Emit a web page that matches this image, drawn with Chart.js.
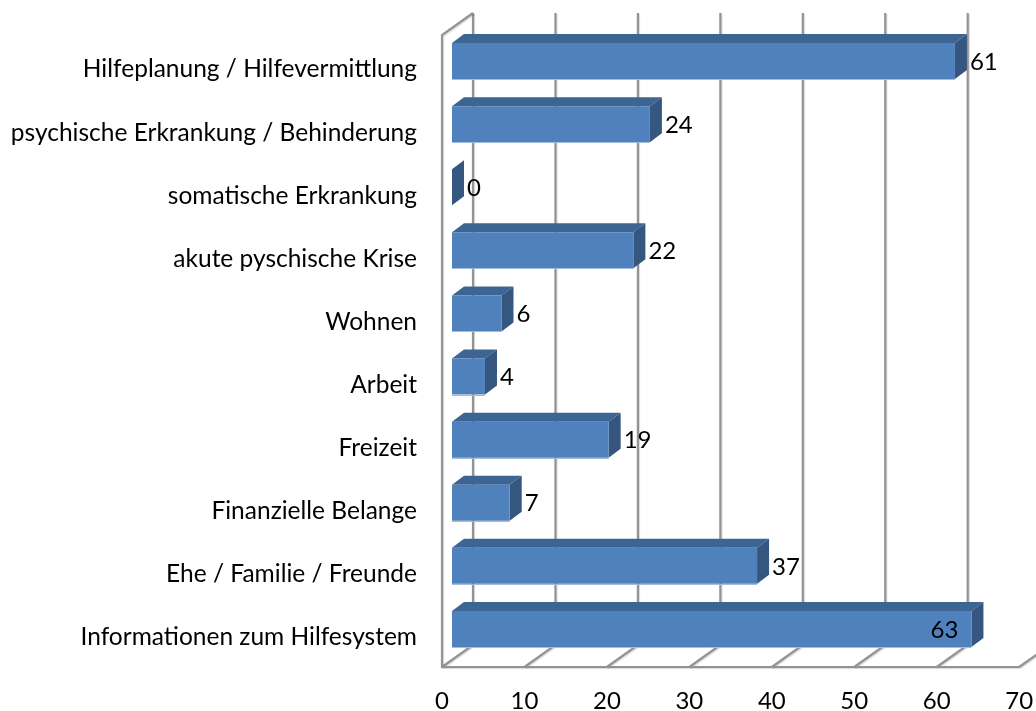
<!DOCTYPE html>
<html>
<head>
<meta charset="utf-8">
<title>Chart</title>
<style>
  html, body { margin: 0; padding: 0; background: #fff; }
  canvas { display: block; }
</style>
<script src="https://cdn.jsdelivr.net/npm/chart.js@4"></script>
</head>
<body>
<canvas id="myChart" width="1036" height="711"></canvas>
<script>
const categories = [
  'Hilfeplanung / Hilfevermittlung',
  'psychische Erkrankung / Behinderung',
  'somatische Erkrankung',
  'akute pyschische Krise',
  'Wohnen',
  'Arbeit',
  'Freizeit',
  'Finanzielle Belange',
  'Ehe / Familie / Freunde',
  'Informationen zum Hilfesystem'
];
const values = [61, 24, 0, 22, 6, 4, 19, 7, 37, 63];
const axisMax = 70;
const axisStep = 10;

const FONT = '24px Lato';
const GRID = '#939393';

// fake 3D: walls and floor sit around the plane the bars are drawn in
const walls = {
  id: 'walls',
  beforeDatasetsDraw(chart) {
    const { ctx } = chart;
    const x = chart.scales.x;
    const front = -10, back = 21;   // offsets from the bar plane
    const floorY = 667, floorBackY = 645, topY = 35, topBackY = 13;
    ctx.save();
    ctx.strokeStyle = GRID;
    ctx.lineWidth = 2.2;
    ctx.shadowColor = 'rgba(0,0,0,0.15)';
    ctx.shadowOffsetX = 1;
    ctx.shadowOffsetY = 1;
    ctx.shadowBlur = 1;
    const line = (pts) => {
      ctx.beginPath();
      pts.forEach((p, i) => (i ? ctx.lineTo(p[0], p[1]) : ctx.moveTo(p[0], p[1])));
      ctx.stroke();
    };
    x.ticks.forEach((t) => {
      const px = x.getPixelForValue(t.value);
      line([[px + back, topBackY], [px + back, floorBackY], [px + front, floorY]]);
    });
    const x0 = x.getPixelForValue(0), xMax = x.getPixelForValue(axisMax);
    line([[xMax + front, floorY], [x0 + front, floorY], [x0 + front, topY], [x0 + back, topBackY]]);
    ctx.restore();
  }
};

// top and side faces of each bar, behind the flat face chart.js draws
const extrude = {
  id: 'extrude',
  beforeDatasetDraw(chart) {
    const { ctx } = chart;
    const dx = 12, dy = 9;
    ctx.save();
    chart.getDatasetMeta(0).data.forEach((bar) => {
      const h = bar.height / 2;
      const l = bar.base, r = bar.x, t = bar.y - h, b = bar.y + h;
      ctx.fillStyle = '#3d6594';
      ctx.beginPath();
      ctx.moveTo(l, t);
      ctx.lineTo(l + dx, t - dy);
      ctx.lineTo(r + dx, t - dy);
      ctx.lineTo(r, t);
      ctx.closePath();
      ctx.fill();
      ctx.fillStyle = '#34567f';
      ctx.beginPath();
      ctx.moveTo(r, t);
      ctx.lineTo(r + dx, t - dy);
      ctx.lineTo(r + dx, b - dy);
      ctx.lineTo(r, b);
      ctx.closePath();
      ctx.fill();
    });
    ctx.restore();
  }
};

const barLabels = {
  id: 'barLabels',
  afterDatasetsDraw(chart) {
    const { ctx } = chart;
    ctx.save();
    // thin light edge along the bottom of the front faces
    ctx.strokeStyle = '#a3bcdc';
    ctx.lineWidth = 1;
    chart.getDatasetMeta(0).data.forEach((bar) => {
      const b = Math.round(bar.y + bar.height / 2) + 0.5;
      ctx.beginPath();
      ctx.moveTo(bar.base, b);
      ctx.lineTo(bar.x, b);
      ctx.stroke();
    });
    ctx.font = FONT;
    ctx.fillStyle = '#000';
    ctx.textBaseline = 'middle';
    chart.getDatasetMeta(0).data.forEach((bar, i) => {
      // the longest bar keeps its label inside, as in the original
      if (values[i] >= 62) {
        ctx.textAlign = 'right';
        ctx.fillText(String(values[i]), bar.x - 13, bar.y + 1);
      } else {
        ctx.textAlign = 'left';
        ctx.fillText(String(values[i]), bar.x + 15, bar.y + 1);
      }
    });
    ctx.restore();
  }
};

new Chart(document.getElementById('myChart').getContext('2d'), {
  type: 'bar',
  data: {
    labels: categories,
    datasets: [{
      data: values,
      backgroundColor: '#4f81bd',
      borderWidth: 0,
      categoryPercentage: 1,
      barPercentage: 0.57
    }]
  },
  plugins: [walls, extrude, barLabels],
  options: {
    indexAxis: 'y',
    responsive: false,
    animation: false,
    layout: { padding: { top: 29.5, right: 6.85, bottom: 0, left: 0 } },
    plugins: { legend: { display: false }, tooltip: { enabled: false } },
    scales: {
      x: {
        min: 0,
        max: axisMax,
        grid: { display: false, drawTicks: false },
        border: { display: false },
        ticks: {
          stepSize: axisStep,
          autoSkip: false,
          maxRotation: 0,
          padding: 26,
          labelOffset: -10,
          color: '#000',
          font: { family: 'Lato', size: 24 }
        },
        afterFit(s) { s.height = 50.5; s.paddingLeft = 0; s.paddingRight = 0; }
      },
      y: {
        grid: { display: false, drawTicks: false },
        border: { display: false },
        ticks: {
          autoSkip: false,
          padding: 35,
          labelOffset: 8.5,
          color: '#000',
          font: { family: 'Lato', size: 24.5 }
        },
        afterFit(s) { s.width = 452; s.paddingTop = 0; s.paddingBottom = 0; }
      }
    }
  }
});
</script>
</body>
</html>
